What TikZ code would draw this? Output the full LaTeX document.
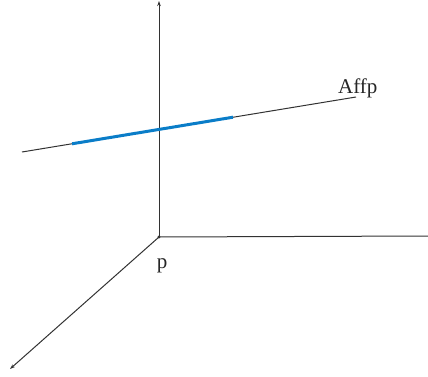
\documentclass[tikz,border=0pt]{standalone}
\usepackage{fontspec}
\setmainfont{Liberation Serif}
\usetikzlibrary{arrows.meta}
\definecolor{axisgray}{RGB}{50,50,50}
\definecolor{segblue}{RGB}{10,125,200}
\tikzset{
  axis/.style={draw=axisgray, line width=1pt},
  axisarrow/.style={axis, -{Stealth[length=5pt,width=3.5pt]}},
  affline/.style={draw=axisgray, line width=1pt},
  segment/.style={draw=segblue, line width=3pt},
  lbl/.style={inner sep=0pt, font=\fontsize{21}{24}\selectfont, text=black!85}
}
\begin{document}
\begin{tikzpicture}[x=1pt,y=1pt]
\useasboundingbox (0,0) rectangle (428,376);
\coordinate (O) at (159,139);
\coordinate (Top) at (159,375);
\coordinate (Right) at (428,140);
\coordinate (Diag) at (10,7);
\coordinate (L1) at (22,224);
\coordinate (L2) at (356,279);
\coordinate (B1) at (72,232.2);
\coordinate (B2) at (233,258.8);
\draw[axisarrow] (O) -- (Top);
\draw[axis] (O) -- (Right);
\draw[axisarrow] (O) -- (Diag);
\draw[affline] (L1) -- (L2);
\draw[segment] (B1) -- (B2);
\fill[axisgray] (O) circle (1.6pt);
\node[lbl, anchor=base west] (aff) at (338,283) {Affp};
\node[lbl, anchor=base] (plbl) at (162,108) {p};
\end{tikzpicture}
\end{document}
